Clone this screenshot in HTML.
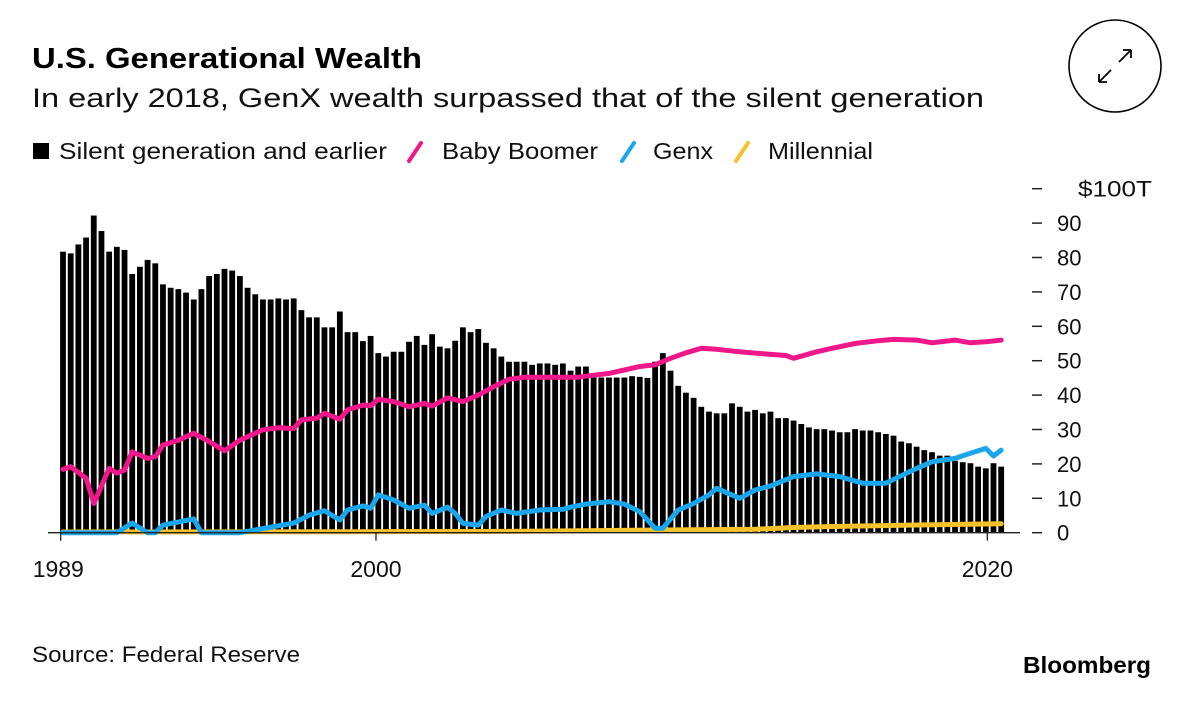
<!DOCTYPE html>
<html><head><meta charset="utf-8"><style>
html,body{margin:0;padding:0;background:#fff;}
svg{display:block;font-family:"Liberation Sans",sans-serif;}
</style></head><body>
<svg id="chart" width="1200" height="715" viewBox="0 0 1200 715" xmlns="http://www.w3.org/2000/svg">
<rect width="1200" height="715" fill="#fff"/>
<text x="32" y="68" font-size="29" font-weight="bold" fill="#000" textLength="390" lengthAdjust="spacingAndGlyphs">U.S. Generational Wealth</text>
<text x="32" y="107" font-size="27" fill="#111" textLength="952" lengthAdjust="spacingAndGlyphs">In early 2018, GenX wealth surpassed that of the silent generation</text>
<g>
<circle cx="1115" cy="66" r="46" fill="none" stroke="#000" stroke-width="1.6"/>
<path d="M1099 82 L1111 70 M1099 82 L1099 74 M1099 82 L1107 82 M1131 50 L1119 62 M1131 50 L1123 50 M1131 50 L1131 58" stroke="#000" stroke-width="1.8" fill="none"/>
</g>
<g>
<g><rect x="33" y="143" width="16" height="16" fill="#000"/><text x="59" y="159" font-size="23" fill="#111" textLength="328" lengthAdjust="spacingAndGlyphs">Silent generation and earlier</text></g>
<g><line x1="409" y1="161" x2="421" y2="143" stroke="#f0178a" stroke-width="4" stroke-linecap="round"/><text x="442" y="159" font-size="23" fill="#111" textLength="156" lengthAdjust="spacingAndGlyphs">Baby Boomer</text></g>
<g><line x1="622" y1="161" x2="634" y2="143" stroke="#1aa6ec" stroke-width="4" stroke-linecap="round"/><text x="653" y="159" font-size="23" fill="#111" textLength="60" lengthAdjust="spacingAndGlyphs">Genx</text></g>
<g><line x1="736" y1="161" x2="748" y2="143" stroke="#f7c12b" stroke-width="4" stroke-linecap="round"/><text x="768" y="159" font-size="23" fill="#111" textLength="105" lengthAdjust="spacingAndGlyphs">Millennial</text></g>
</g>
<g id="bars"></g>
<g id="lines"></g>
<g id="yaxis"></g>
<g id="xaxis"></g>
<text x="32" y="662" font-size="22" fill="#111" textLength="268" lengthAdjust="spacingAndGlyphs">Source: Federal Reserve</text>
<text x="1023" y="673" font-size="23" font-weight="bold" fill="#000" textLength="128" lengthAdjust="spacingAndGlyphs">Bloomberg</text>
</svg>
<script>
// Silent generation quarterly wealth ($T), 1989Q3 .. 2020Q1
const silent = [81.7,81.2,83.8,85.8,92.2,87.7,81.7,83.1,82.2,75.2,77.3,79.3,78.3,72.2,71.2,70.8,69.8,67.8,70.8,74.6,75.2,76.7,76.2,74.6,71.2,69.3,67.8,67.8,68.1,67.8,68.1,64.7,62.6,62.6,59.7,59.7,64.3,58.3,58.3,55.7,57.2,52.2,51.2,52.6,52.6,55.5,57.2,54.6,57.7,
54.1,53.6,55.8,59.7,58.3,59.2,55.2,53.6,51.2,49.7,49.7,49.7,48.8,49.2,49.2,48.8,49.2,47.1,48.3,48.3,45.1,45.1,45.1,45.1,45.1,45.5,45.3,45.0,49.7,52.2,47.1,42.7,40.7,
39.2,36.6,35.2,34.7,34.7,37.6,36.6,35.2,35.7,34.7,35.2,33.3,33.3,32.6,31.6,30.6,30.1,30.1,29.7,29.2,29.2,30.1,29.7,29.7,29.2,28.7,28.2,26.5,26.0,25.0,24.0,23.4,22.4,22.4,20.9,20.5,20.2,19.2,18.7,20.2,19.2];
// Line series: quarter index (0 = 1989Q3) and value ($T)
const boomerQ = [0,1,3,4,6,7,8,9,11,12,13,15,17,19,21,23,26,28,30,31,33,34,36,37,39,40,41,43,45,47,48,50,52,54,56,58,60,64,67,71,73,75,77,79,81,83,85,88,91,94,95,98,100,103,106,108,111,113,116,118,120,122];
const boomerVal = [18.4,19.2,15.8,8.5,18.7,17.3,18.2,23.5,21.6,22.1,25.5,26.9,28.9,26.5,23.8,26.9,29.9,30.5,30.3,32.8,33.3,34.7,33.0,35.7,37.1,36.9,38.8,38.1,36.6,37.6,36.8,39.2,38.1,40.0,42.4,44.6,45.2,45.2,45.2,46.3,47.3,48.3,48.8,50.7,52.3,53.6,53.3,52.6,52.0,51.5,50.7,52.6,53.6,55.0,55.8,56.2,56.0,55.2,56.0,55.2,55.5,56.0];
const genxQ = [0,7,9,11,12,13,17,18,23,30,32,34,36,37,39,40,41,43,45,47,48,50,51,52,54,55,57,59,62,65,66,68,71,73,75,77,78,80,82,84,85,88,90,92,95,98,101,104,107,111,113,116,118,120,121,122];
const genxVal = [0,0,2.8,0,0,2.2,4.0,0,0,2.8,5.1,6.4,3.7,6.6,7.8,7.1,11.0,9.5,7.1,8.0,5.6,7.4,5.6,2.7,2.2,4.7,6.6,5.6,6.6,6.8,7.4,8.3,9.0,8.3,6.1,1.3,1.3,6.6,8.5,11.0,12.9,10.0,12.4,13.6,16.3,17.1,16.3,14.4,14.4,18.7,20.6,21.6,23.1,24.5,22.3,24.0];
const millQ = [0,40,60,80,90,95,100,110,122];
const millVal = [0.2,0.3,0.4,0.8,1.0,1.5,1.8,2.2,2.6];
const yTicks = [0,10,20,30,40,50,60,70,80,90,100];
const xTickLabels = ["1989","2000","2020"];
const xTickQ = [-0.3,40.7,120.2];

const NS = "http://www.w3.org/2000/svg";
const x0 = 63, pitch = 7.69, yZero = 532.7, pxPerUnit = 3.44;
function xs(q){ return x0 + q*pitch; }
function ys(v){ return yZero - v*pxPerUnit; }
function mk(tag, attrs, parent){ const e=document.createElementNS(NS,tag); for(const k in attrs) e.setAttribute(k,attrs[k]); parent.appendChild(e); return e; }

const bars = document.getElementById('bars');
silent.forEach((v,i)=>{
  const r = mk('rect',{x:xs(i)-2.9,y:ys(v),width:5.8,height:yZero-ys(v),fill:'#000'},bars);
  
  
});

const lines = document.getElementById('lines');
function drawLine(qs, vals, color, name){
  const d = qs.map((q,i)=>(i?'L':'M')+xs(q).toFixed(1)+' '+ys(vals[i]).toFixed(1)).join(' ');
  const p = mk('path',{d:d,fill:'none',stroke:color,'stroke-width':5,'stroke-linejoin':'round','stroke-linecap':'round'},lines);
  
  
}
drawLine(millQ, millVal, '#f7c12b', 'millennial-line');
drawLine(genxQ, genxVal, '#1aa6ec', 'genx-line');
drawLine(boomerQ, boomerVal, '#f0178a', 'baby-boomer-line');

const yaxis = document.getElementById('yaxis');
yTicks.forEach(t=>{
  const y = ys(t);
  const l = mk('line',{x1:1032,x2:1042,y1:y,y2:y,stroke:'#222','stroke-width':1.5},yaxis);
  
  
  const tx = mk('text',{x:t===100?1078:1057,y:y+8,'font-size':22,fill:'#111'},yaxis);
  if(t===100){ tx.setAttribute('textLength', 74); tx.setAttribute('lengthAdjust', 'spacingAndGlyphs'); }
  tx.textContent = t===100 ? '$100T' : String(t);
  
  
});

const xaxis = document.getElementById('xaxis');
const base = mk('line',{x1:48,x2:1020,y1:yZero,y2:yZero,stroke:'#222','stroke-width':1.3},xaxis);


xTickLabels.forEach((lab,i)=>{
  const x = xs(xTickQ[i]);
  const l = mk('line',{x1:x,x2:x,y1:yZero,y2:yZero+8,stroke:'#222','stroke-width':1.3},xaxis);
  
  
  const tx = mk('text',{x:x,y:577,'font-size':23,fill:'#111','text-anchor':i===0?'start':'middle'},xaxis);
  if(i===0) tx.setAttribute('x', x-28);
  tx.textContent = lab;
  
  
});
</script>
</body></html>
